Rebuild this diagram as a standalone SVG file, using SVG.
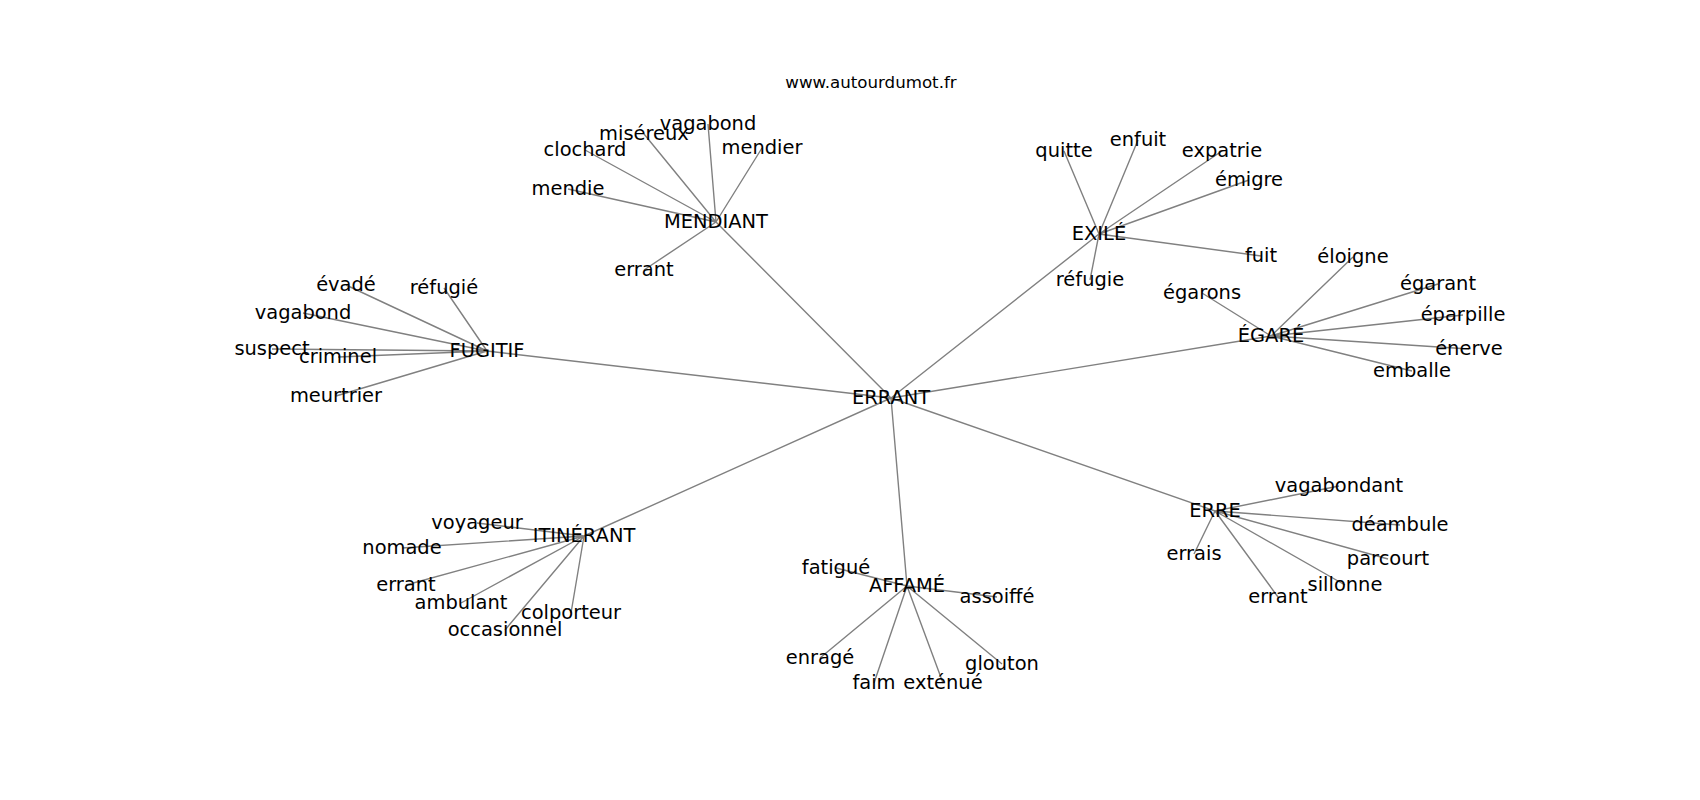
<svg xmlns="http://www.w3.org/2000/svg" width="1700" height="800" viewBox="0 0 1700 800">
<style>
.e{stroke:#808080;stroke-width:1.4;fill:none}
text{font-family:"DejaVu Sans","Liberation Sans",sans-serif;fill:#000;text-anchor:middle}
.n{font-size:19.44px}
.t{font-size:16.67px}
</style>
<rect width="1700" height="800" fill="#fff"/>
<text class="t" x="871" y="88">www.autourdumot.fr</text>
<g id="edges">
<path class="e" d="M891 398L716 222M891 398L1099 234M891 398L1271 336M891 398L487 351M891 398L584 536M891 398L907 586M891 398L1215 511"/>
<path class="e" d="M716 222L708 124M716 222L644 134M716 222L585 150M716 222L762 148M716 222L568 189M716 222L644 270"/>
<path class="e" d="M1099 234L1064 151M1099 234L1138 140M1099 234L1222 151M1099 234L1249 180M1099 234L1261 256M1099 234L1090 280"/>
<path class="e" d="M1271 336L1202 293M1271 336L1353 257M1271 336L1438 284M1271 336L1463 315M1271 336L1469 349M1271 336L1412 371"/>
<path class="e" d="M487 351L346 285M487 351L444 288M487 351L303 313M487 351L272 349M487 351L338 357M487 351L336 396"/>
<path class="e" d="M584 536L477 523M584 536L402 548M584 536L406 585M584 536L461 603M584 536L571 613M584 536L505 630"/>
<path class="e" d="M907 586L836 568M907 586L997 597M907 586L820 658M907 586L874 683M907 586L943 683M907 586L1002 664"/>
<path class="e" d="M1215 511L1339 486M1215 511L1400 525M1215 511L1388 559M1215 511L1345 585M1215 511L1278 597M1215 511L1194 554"/>
</g>
<g id="n-errant"><text class="n" x="891" y="403.5">ERRANT</text></g>
<g id="n-mendiant"><text class="n" x="716" y="227.5">MENDIANT</text></g>
<g id="n-exile"><text class="n" x="1099" y="239.5">EXILÉ</text></g>
<g id="n-egare"><text class="n" x="1271" y="341.5">ÉGARÉ</text></g>
<g id="n-fugitif"><text class="n" x="487" y="356.5">FUGITIF</text></g>
<g id="n-itinerant"><text class="n" x="584" y="541.5">ITINÉRANT</text></g>
<g id="n-affame"><text class="n" x="907" y="591.5">AFFAMÉ</text></g>
<g id="n-erre"><text class="n" x="1215" y="516.5">ERRE</text></g>
<g id="n-m-vagabond"><text class="n" x="708" y="129.5">vagabond</text></g>
<g id="n-m-misereux"><text class="n" x="644" y="139.5">miséreux</text></g>
<g id="n-m-clochard"><text class="n" x="585" y="155.5">clochard</text></g>
<g id="n-m-mendier"><text class="n" x="762" y="153.5">mendier</text></g>
<g id="n-m-mendie"><text class="n" x="568" y="194.5">mendie</text></g>
<g id="n-m-errant"><text class="n" x="644" y="275.5">errant</text></g>
<g id="n-x-quitte"><text class="n" x="1064" y="156.5">quitte</text></g>
<g id="n-x-enfuit"><text class="n" x="1138" y="145.5">enfuit</text></g>
<g id="n-x-expatrie"><text class="n" x="1222" y="156.5">expatrie</text></g>
<g id="n-x-emigre"><text class="n" x="1249" y="185.5">émigre</text></g>
<g id="n-x-fuit"><text class="n" x="1261" y="261.5">fuit</text></g>
<g id="n-x-refugie"><text class="n" x="1090" y="285.5">réfugie</text></g>
<g id="n-g-egarons"><text class="n" x="1202" y="298.5">égarons</text></g>
<g id="n-g-eloigne"><text class="n" x="1353" y="262.5">éloigne</text></g>
<g id="n-g-egarant"><text class="n" x="1438" y="289.5">égarant</text></g>
<g id="n-g-eparpille"><text class="n" x="1463" y="320.5">éparpille</text></g>
<g id="n-g-enerve"><text class="n" x="1469" y="354.5">énerve</text></g>
<g id="n-g-emballe"><text class="n" x="1412" y="376.5">emballe</text></g>
<g id="n-f-evade"><text class="n" x="346" y="290.5">évadé</text></g>
<g id="n-f-refugie"><text class="n" x="444" y="293.5">réfugié</text></g>
<g id="n-f-vagabond"><text class="n" x="303" y="318.5">vagabond</text></g>
<g id="n-f-suspect"><text class="n" x="272" y="354.5">suspect</text></g>
<g id="n-f-criminel"><text class="n" x="338" y="362.5">criminel</text></g>
<g id="n-f-meurtrier"><text class="n" x="336" y="401.5">meurtrier</text></g>
<g id="n-i-voyageur"><text class="n" x="477" y="528.5">voyageur</text></g>
<g id="n-i-nomade"><text class="n" x="402" y="553.5">nomade</text></g>
<g id="n-i-errant"><text class="n" x="406" y="590.5">errant</text></g>
<g id="n-i-ambulant"><text class="n" x="461" y="608.5">ambulant</text></g>
<g id="n-i-colporteur"><text class="n" x="571" y="618.5">colporteur</text></g>
<g id="n-i-occasionnel"><text class="n" x="505" y="635.5">occasionnel</text></g>
<g id="n-a-fatigue"><text class="n" x="836" y="573.5">fatigué</text></g>
<g id="n-a-assoiffe"><text class="n" x="997" y="602.5">assoiffé</text></g>
<g id="n-a-enrage"><text class="n" x="820" y="663.5">enragé</text></g>
<g id="n-a-faim"><text class="n" x="874" y="688.5">faim</text></g>
<g id="n-a-extenue"><text class="n" x="943" y="688.5">exténué</text></g>
<g id="n-a-glouton"><text class="n" x="1002" y="669.5">glouton</text></g>
<g id="n-e-vagabondant"><text class="n" x="1339" y="491.5">vagabondant</text></g>
<g id="n-e-deambule"><text class="n" x="1400" y="530.5">déambule</text></g>
<g id="n-e-parcourt"><text class="n" x="1388" y="564.5">parcourt</text></g>
<g id="n-e-sillonne"><text class="n" x="1345" y="590.5">sillonne</text></g>
<g id="n-e-errant"><text class="n" x="1278" y="602.5">errant</text></g>
<g id="n-e-errais"><text class="n" x="1194" y="559.5">errais</text></g>
</svg>
